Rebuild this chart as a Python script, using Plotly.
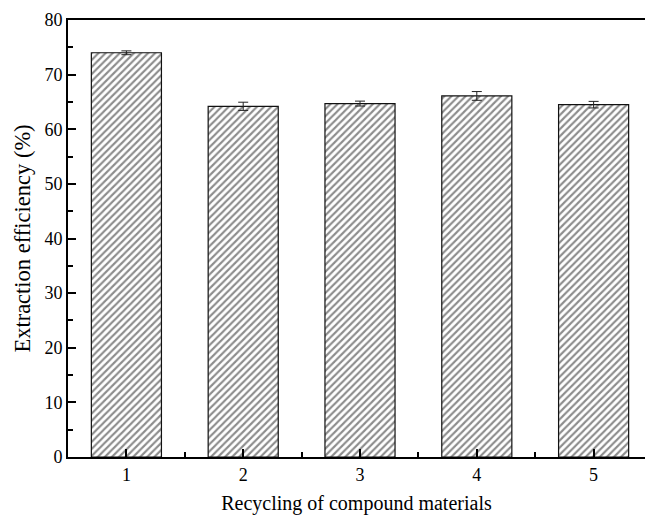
import plotly.graph_objects as go

# Extraction efficiency over successive recycling runs of the compound material
cycles = [1, 2, 3, 4, 5]
efficiency = [74.0, 64.2, 64.7, 66.1, 64.5]
error = [0.35, 0.75, 0.45, 0.8, 0.6]

fig = go.Figure()
fig.add_trace(go.Bar(
    x=cycles,
    y=efficiency,
    width=0.6,
    marker=dict(
        color="white",
        line=dict(color="#111111", width=1.2),
        pattern=dict(shape="/", fgcolor="#1a1a1a", bgcolor="white", size=5, solidity=0.42),
    ),
    error_y=dict(type="data", array=error, visible=True, color="#222222", thickness=1, width=5),
))

font_family = "Liberation Serif, Times New Roman, serif"

fig.update_layout(
    width=645,
    height=515,
    margin=dict(l=68, r=0, t=20, b=58),
    plot_bgcolor="white",
    paper_bgcolor="white",
    showlegend=False,
    font=dict(family=font_family, color="black", size=18),
    xaxis=dict(
        range=[0.5, 5.44],
        tickmode="array",
        tickvals=cycles,
        ticktext=[str(c) for c in cycles],
        ticks="inside",
        ticklen=8,
        tickwidth=1.5,
        tickcolor="black",
        showline=True,
        linecolor="black",
        linewidth=2,
        mirror=True,
        showgrid=False,
        zeroline=False,
        minor=dict(tickvals=[1.5, 2.5, 3.5, 4.5], ticks="inside", ticklen=5, tickwidth=1.5, tickcolor="black"),
        tickfont=dict(size=18),
        title=dict(text="Recycling of compound materials", font=dict(size=20), standoff=12),
    ),
    yaxis=dict(
        range=[0, 80],
        tickmode="linear",
        tick0=0,
        dtick=10,
        ticks="inside",
        ticklen=8,
        tickwidth=1.5,
        tickcolor="black",
        showline=True,
        linecolor="black",
        linewidth=2,
        mirror=False,
        showgrid=False,
        zeroline=False,
        minor=dict(dtick=5, ticks="inside", ticklen=5, tickwidth=1.5, tickcolor="black"),
        tickfont=dict(size=18),
        title=dict(text="Extraction efficiency (%)", font=dict(size=22.5), standoff=8),
    ),
)

fig.write_html("out.html")
